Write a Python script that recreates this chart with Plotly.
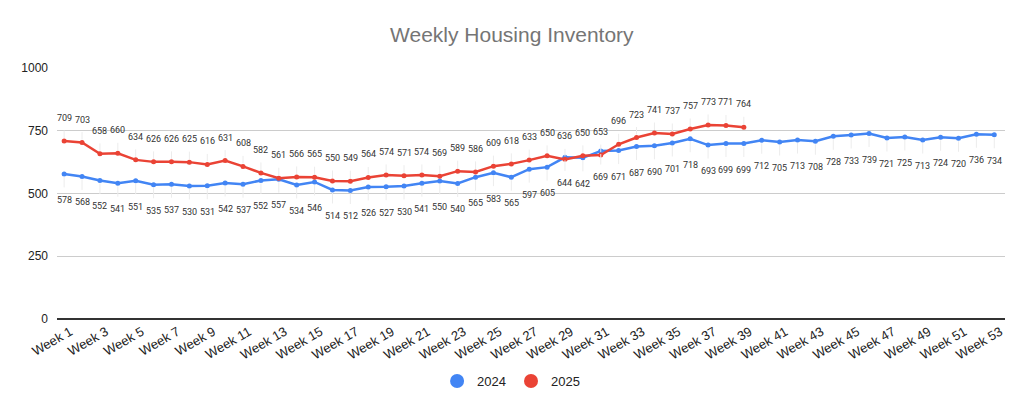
import plotly.graph_objects as go

weeks = [f"Week {i}" for i in range(1, 54)]
tick_labels = [f"Week {i}" for i in range(1, 54, 2)]

inv_2024 = [578, 568, 552, 541, 551, 535, 537, 530, 531, 542,
            537, 552, 557, 534, 546, 514, 512, 526, 527, 530,
            541, 550, 540, 565, 583, 565, 597, 605, 644, 642,
            669, 671, 687, 690, 701, 718, 693, 699, 699, 712,
            705, 713, 708, 728, 733, 739, 721, 725, 713, 724,
            720, 736, 734]
inv_2025 = [709, 703, 658, 660, 634, 626, 626, 625, 616, 631,
            608, 582, 561, 566, 565, 550, 549, 564, 574, 571,
            574, 569, 589, 586, 609, 618, 633, 650, 636, 650,
            653, 696, 723, 741, 737, 757, 773, 771, 764]

BLUE = "#4285F4"
RED = "#EA4335"

fig = go.Figure()
fig.add_trace(go.Scatter(x=weeks, y=inv_2024, mode="lines+markers", name="2024",
                         line=dict(color=BLUE, width=2.5), marker=dict(size=5, color=BLUE),
                         showlegend=False, hoverinfo="skip"))
fig.add_trace(go.Scatter(x=weeks[:len(inv_2025)], y=inv_2025, mode="lines+markers", name="2025",
                         line=dict(color=RED, width=2.5), marker=dict(size=5, color=RED),
                         showlegend=False, hoverinfo="skip"))
# legend entries (circle only)
fig.add_trace(go.Scatter(x=[None], y=[None], mode="markers", name="2024",
                         marker=dict(size=14, color=BLUE)))
fig.add_trace(go.Scatter(x=[None], y=[None], mode="markers", name="2025",
                         marker=dict(size=14, color=RED)))

annotations = []
lab_font = dict(family="Roboto, Arial, sans-serif", size=9, color="#333333")
for w, v in zip(weeks, inv_2024):
    annotations.append(dict(x=w, y=v, xref="x", yref="y", text=str(v), showarrow=True,
                            arrowhead=0, arrowwidth=1, arrowcolor="#ececec", ax=0, ay=26,
                            standoff=3, startstandoff=6, font=lab_font))
for w, v in zip(weeks, inv_2025):
    annotations.append(dict(x=w, y=v, xref="x", yref="y", text=str(v), showarrow=True,
                            arrowhead=0, arrowwidth=1, arrowcolor="#ececec", ax=0, ay=-23,
                            standoff=3, startstandoff=6, font=lab_font))

fig.update_layout(
    width=1024, height=408,
    margin=dict(l=49, r=27, t=60, b=97, autoexpand=False),
    paper_bgcolor="white", plot_bgcolor="white",
    title=dict(text="Weekly Housing Inventory", x=0.492, xanchor="center", y=0.934, yanchor="middle",
               font=dict(family="Liberation Sans, Arial, sans-serif", size=21, color="#757575")),
    xaxis=dict(type="category", categoryorder="array", categoryarray=weeks,
               range=[-0.4, 52.6], tickmode="array", tickvals=tick_labels, ticktext=tick_labels,
               tickangle=-30, showgrid=False, zeroline=False, showline=False, ticks="",
               automargin=False, ticklabelshift=6, ticklabelstandoff=2,
               tickfont=dict(family="Liberation Sans, Arial, sans-serif", size=13, color="#222222")),
    yaxis=dict(range=[0, 1000], tickvals=[0, 250, 500, 750, 1000], showgrid=True,
               gridcolor="#cccccc", gridwidth=1, zeroline=True, zerolinecolor="#333333",
               zerolinewidth=1.5, ticks="", ticklabelstandoff=8, automargin=False,
               tickfont=dict(family="Liberation Sans, Arial, sans-serif", size=12, color="#222222")),
    legend=dict(orientation="h", x=0.479, xanchor="center", y=-0.247, yanchor="middle",
                font=dict(family="Liberation Sans, Arial, sans-serif", size=13, color="#222222"),
                itemsizing="trace"),
    annotations=annotations,
)

fig.write_html("out.html")
